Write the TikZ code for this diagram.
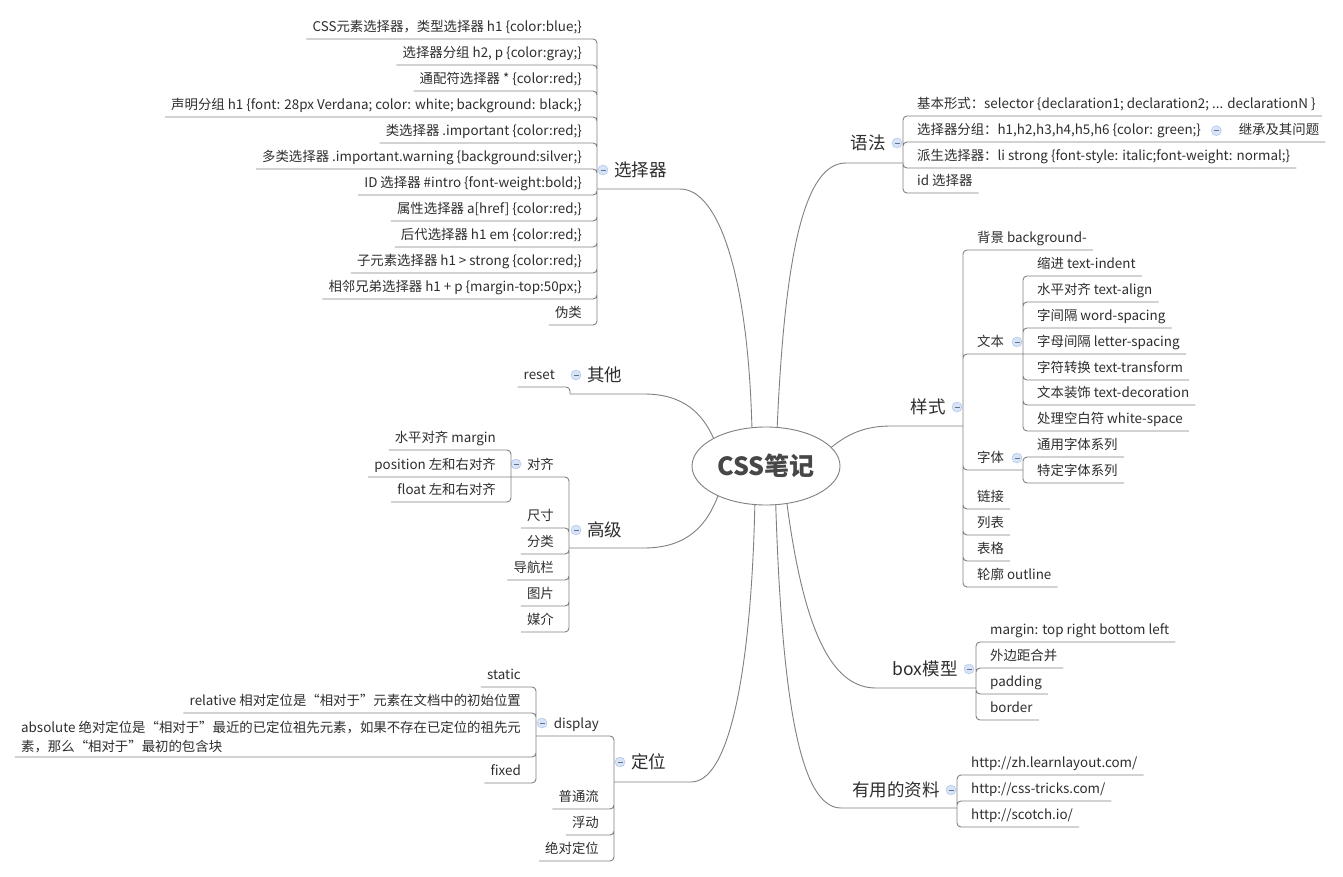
\documentclass[tikz,border=0pt]{standalone}
\usepackage{fontspec}
\setmainfont{Noto Sans CJK SC}
\usetikzlibrary{positioning,shapes.geometric}

\definecolor{linegray}{HTML}{808080}
\definecolor{textdark}{HTML}{2E2E2E}
\definecolor{rootgray}{HTML}{474747}
\definecolor{foldfill}{HTML}{D7E3F7}
\definecolor{foldline}{HTML}{A9BFE8}

\tikzset{
  root/.style={ellipse, draw=linegray, line width=0.9pt, minimum width=148pt, minimum height=78pt, inner sep=0pt, text=rootgray, font=\fontsize{25}{30}\selectfont\bfseries},
  topic/.style={inner sep=2pt, text=textdark, font=\fontsize{17.5}{21}\selectfont},
  leaf/.style={inner xsep=6pt, inner ysep=4pt, text=textdark, font=\fontsize{13.4}{19}\selectfont},
  leafL/.style={leaf, text depth=3pt, anchor=south east},
  leafR/.style={leaf, text depth=3pt, anchor=south west},
  branch/.style={draw=linegray, line width=0.9pt, rounded corners=4pt},
  fold/.style={circle, draw=foldline, fill=foldfill, minimum size=10pt, inner sep=0pt,
    path picture={\draw[foldline!60!black, line width=0.7pt] ([xshift=-2.5pt]path picture bounding box.center) -- ([xshift=2.5pt]path picture bounding box.center);}}
}

\begin{document}
\begin{tikzpicture}[x=1pt, y=-1pt]
        \path[use as bounding box, fill=white] (0,0) rectangle (1343,877);

        % Central topic
        \node[root] (root) at (766,466) {CSS笔记};

        % Selectors (left top)
        \coordinate (selB) at (597,189);
        \node[fold] (f-sel) at (603,170) {};
        \node[topic, right=4pt of f-sel] (sel) {选择器};
        \node[leafL] (sel1) at (588,39) {CSS元素选择器，类型选择器 h1 \{color:blue;\}};
        \node[leafL] (sel2) at (588,65) {选择器分组 h2, p \{color:gray;\}};
        \node[leafL] (sel3) at (588,91) {通配符选择器 * \{color:red;\}};
        \node[leafL] (sel4) at (588,117) {声明分组 h1 \{font: 28px Verdana; color: white; background: black;\}};
        \node[leafL] (sel5) at (588,143) {类选择器 .important \{color:red;\}};
        \node[leafL] (sel6) at (588,169) {多类选择器 .important.warning \{background:silver;\}};
        \node[leafL] (sel7) at (588,195) {ID 选择器 \#intro \{font-weight:bold;\}};
        \node[leafL] (sel8) at (588,221) {属性选择器 a[href] \{color:red;\}};
        \node[leafL] (sel9) at (588,247) {后代选择器 h1 em \{color:red;\}};
        \node[leafL] (sel10) at (588,273) {子元素选择器 h1 > strong \{color:red;\}};
        \node[leafL] (sel11) at (588,299) {相邻兄弟选择器 h1 + p \{margin-top:50px;\}};
        \node[leafL] (sel12) at (588,325) {伪类};
        \draw[branch] (root.110) .. controls (748,280) and (720,189) .. (676,189) -- (selB);
        \draw[branch] (selB) |- (sel1.south west) (selB) |- (sel2.south west) (selB) |- (sel3.south west)
            (selB) |- (sel4.south west) (selB) |- (sel5.south west) (selB) |- (sel6.south west)
            (selB) |- (sel7.south west) (selB) |- (sel8.south west) (selB) |- (sel9.south west)
            (selB) |- (sel10.south west) (selB) |- (sel11.south west) (selB) |- (sel12.south west);

        % Other
        \coordinate (othB) at (570,394);
        \node[fold] (f-oth) at (576,375) {};
        \node[topic, right=4pt of f-oth] (oth) {其他};
        \node[leafL] (oth1) at (561,387) {reset};
        \draw[branch] (root.152) .. controls (703,415) and (685,394) .. (640,394) -- (othB);
        \draw[branch] (othB) |- (oth1.south west);

        % Advanced
        \coordinate (advB) at (569,548);
        \node[fold] (f-adv) at (576,530) {};
        \node[topic, right=4pt of f-adv] (adv) {高级};
        \coordinate (aliB) at (511,477);
        \node[leafL] (ali) at (560,477) {对齐};
        \node[fold] (f-ali) at (516,464) {};
        \node[leafL] (ali1) at (502,450) {水平对齐 margin};
        \node[leafL] (ali2) at (502,477) {position 左和右对齐};
        \node[leafL] (ali3) at (502,502) {float 左和右对齐};
        \node[leafL] (adv2) at (560,528) {尺寸};
        \node[leafL] (adv3) at (560,554) {分类};
        \node[leafL] (adv4) at (560,580) {导航栏};
        \node[leafL] (adv5) at (560,606) {图片};
        \node[leafL] (adv6) at (560,632) {媒介};
        \draw[branch] (root.212) .. controls (708,522) and (690,548) .. (640,548) -- (advB);
        \draw[branch] (advB) |- (aliB) (advB) |- (adv2.south west) (advB) |- (adv3.south west)
            (advB) |- (adv4.south west) (advB) |- (adv5.south west) (advB) |- (adv6.south west);
        \draw[branch] (aliB) |- (ali1.south west) (aliB) -- (ali2.south west) (aliB) |- (ali3.south west);

        % Positioning
        \coordinate (posB) at (614,782);
        \node[fold] (f-pos) at (620,762) {};
        \node[topic, right=4pt of f-pos] (pos) {定位};
        \coordinate (disB) at (536,736);
        \node[leafL] (dis) at (605,736) {display};
        \node[fold] (f-dis) at (542,723) {};
        \node[leafL] (dis1) at (527,687) {static};
        \node[leafL] (dis2) at (527,713) {relative 相对定位是“相对于”元素在文档中的初始位置};
        \node[leaf, anchor=south east, align=left] (dis3) at (527,757) {absolute 绝对定位是“相对于”最近的已定位祖先元素，如果不存在已定位的祖先元\\素，那么“相对于”最初的包含块};
        \node[leafL] (dis4) at (527,783) {fixed};
        \node[leafL] (pos2) at (605,809) {普通流};
        \node[leafL] (pos3) at (605,835) {浮动};
        \node[leafL] (pos4) at (605,861) {绝对定位};
        \draw[branch] (root.254) .. controls (752,640) and (735,782) .. (687,782) -- (posB);
        \draw[branch] (posB) |- (disB) (posB) |- (pos2.south west) (posB) |- (pos3.south west) (posB) |- (pos4.south west);
        \draw[branch] (disB) |- (dis1.south west) (disB) |- (dis2.south west) (disB) |- (dis3.south west) (disB) |- (dis4.south west);

        % Syntax (right top)
        \coordinate (synB) at (903,163);
        \node[fold] (f-syn) at (897,143) {};
        \node[topic, left=4pt of f-syn] (syn) {语法};
        \node[leafR] (syn1) at (911,116) {基本形式：selector \{declaration1; declaration2; ... declarationN \}};
        \node[leafR] (syn2) at (911,142) {选择器分组：h1,h2,h3,h4,h5,h6 \{color: green;\}};
        \node[fold, right=4pt of syn2] (f-syn2) {};
        \node[leafR] (syn2a) at ([xshift=11pt]f-syn2.east |- syn2.south) {继承及其问题};
        \node[leafR] (syn3) at (911,168) {派生选择器：li strong \{font-style: italic;font-weight: normal;\}};
        \node[leafR] (syn4) at (911,193) {id 选择器};
        \draw[branch] (root.74) .. controls (785,250) and (805,163) .. (850,163) -- (synB);
        \draw[branch] (synB) |- (syn1.south east) (synB) |- (syn2.south east) -- (syn2a.south east)
            (synB) |- (syn3.south east) (synB) |- (syn4.south east);

        % Styles
        \coordinate (styB) at (963,426);
        \node[fold] (f-sty) at (957,407) {};
        \node[topic, left=4pt of f-sty] (sty) {样式};
        \node[leafR] (sty1) at (971,250) {背景 background-};
        \coordinate (txtB) at (1023,354);
        \node[leafR] (txt) at (971,354) {文本};
        \node[fold] (f-txt) at (1017,342) {};
        \node[leafR] (txt1) at (1031,276) {缩进 text-indent};
        \node[leafR] (txt2) at (1031,302) {水平对齐 text-align};
        \node[leafR] (txt3) at (1031,328) {字间隔 word-spacing};
        \node[leafR] (txt4) at (1031,354) {字母间隔 letter-spacing};
        \node[leafR] (txt5) at (1031,380) {字符转换 text-transform};
        \node[leafR] (txt6) at (1031,405) {文本装饰 text-decoration};
        \node[leafR] (txt7) at (1031,431) {处理空白符 white-space};
        \coordinate (fntB) at (1023,470);
        \node[leafR] (fnt) at (971,470) {字体};
        \node[fold] (f-fnt) at (1017,458) {};
        \node[leafR] (fnt1) at (1031,457) {通用字体系列};
        \node[leafR] (fnt2) at (1031,483) {特定字体系列};
        \node[leafR] (sty4) at (971,509) {链接};
        \node[leafR] (sty5) at (971,535) {列表};
        \node[leafR] (sty6) at (971,561) {表格};
        \node[leafR] (sty7) at (971,587) {轮廓 outline};
        \draw[branch] (root.16.5) .. controls (850,432) and (868,426) .. (895,426) -- (styB);
        \draw[branch] (styB) |- (sty1.south east) (styB) |- (txtB) (styB) |- (fntB) (styB) |- (sty4.south east)
            (styB) |- (sty5.south east) (styB) |- (sty6.south east) (styB) |- (sty7.south east);
        \draw[branch] (txtB) |- (txt1.south east) (txtB) |- (txt2.south east) (txtB) |- (txt3.south east)
            (txtB) -- (txt4.south east) (txtB) |- (txt5.south east) (txtB) |- (txt6.south east) (txtB) |- (txt7.south east);
        \draw[branch] (fntB) |- (fnt1.south east) (fntB) |- (fnt2.south east);

        % Box model
        \coordinate (boxB) at (976,688);
        \node[fold] (f-box) at (969,669) {};
        \node[topic, left=4pt of f-box] (box) {box模型};
        \node[leafR] (box1) at (984,642) {margin: top right bottom left};
        \node[leafR] (box2) at (984,668) {外边距合并};
        \node[leafR] (box3) at (984,694) {padding};
        \node[leafR] (box4) at (984,720) {border};
        \draw[branch] (root.299) .. controls (805,640) and (835,688) .. (880,688) -- (boxB);
        \draw[branch] (boxB) |- (box1.south east) (boxB) |- (box2.south east) (boxB) |- (box3.south east) (boxB) |- (box4.south east);

        % Useful resources
        \coordinate (resB) at (957,808);
        \node[fold] (f-res) at (951,790) {};
        \node[topic, left=4pt of f-res] (res) {有用的资料};
        \node[leafR] (res1) at (965,775) {http://zh.learnlayout.com/};
        \node[leafR] (res2) at (965,801) {http://css-tricks.com/};
        \node[leafR] (res3) at (965,827) {http://scotch.io/};
        \draw[branch] (root.284) .. controls (782,700) and (800,808) .. (845,808) -- (resB);
        \draw[branch] (resB) |- (res1.south east) (resB) |- (res2.south east) (resB) |- (res3.south east);
    \end{tikzpicture}
\end{document}
